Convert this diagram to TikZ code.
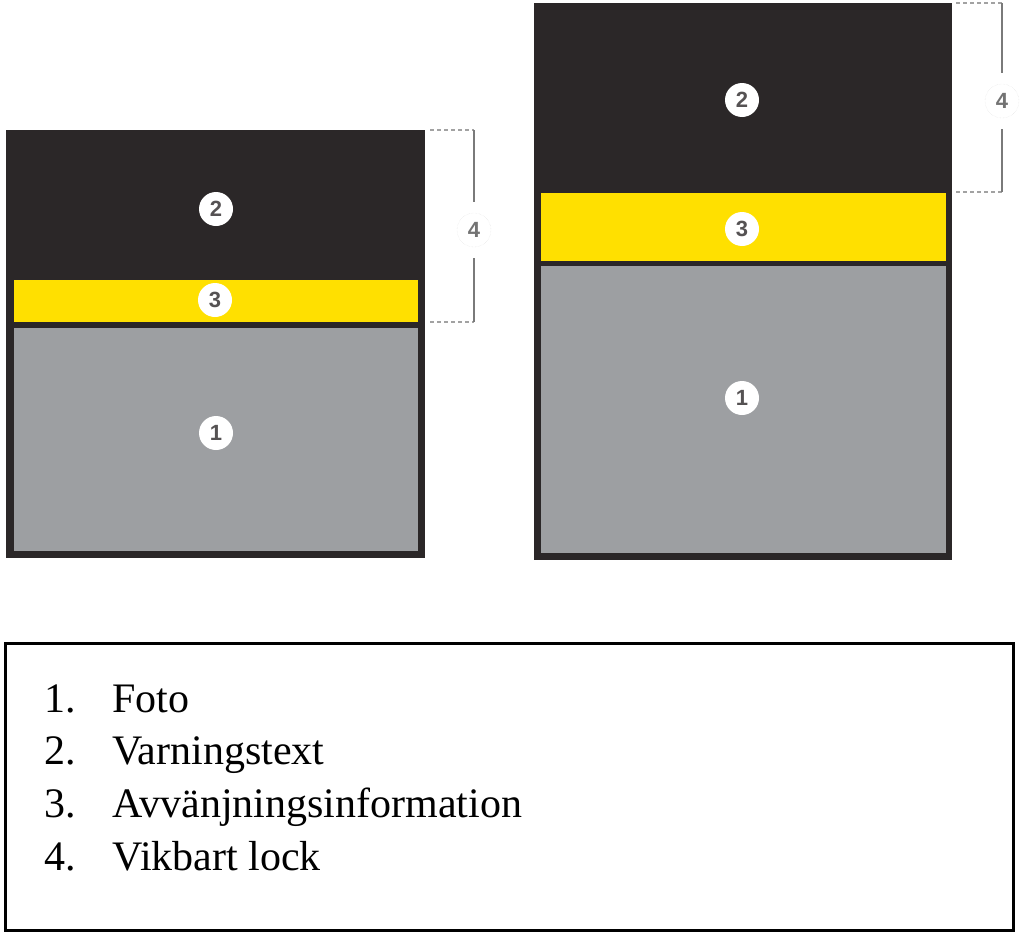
\documentclass[tikz,border=0pt]{standalone}
\usepackage{fontspec}
\setmainfont{Liberation Serif}
\newfontfamily\digitfont{Liberation Sans}
\definecolor{panel}{HTML}{2B2728}
\definecolor{band}{HTML}{FFE000}
\definecolor{photo}{HTML}{9D9FA2}
\definecolor{bracket}{HTML}{7A7A7A}
\begin{document}
\begin{tikzpicture}[x=1pt,y=-1pt,
  num/.style={circle,fill=white,inner sep=0pt,minimum size=34pt,
    text=panel!80,font=\digitfont\bfseries\fontsize{22}{22}\selectfont},
  lid/.style={num,draw=black!12,densely dotted,text=black!55,outer sep=11pt},
  lidline/.style={bracket,line width=2.5pt},
  liddash/.style={bracket!70,line width=1.5pt,dash pattern=on 4pt off 3pt},
  item/.style={anchor=base west,inner sep=0pt,font=\fontsize{42}{42}\selectfont}]
  \useasboundingbox (0,0) rectangle (1024,934);
  % Left pack
  \fill[panel] (6,130) rectangle (425,558);
  \fill[band] (14,280) rectangle (418,322);
  \fill[photo] (14,328) rectangle (418,551);
  \node[num] (l2) at (216,209) {2};
  \node[num] (l3) at (215,300) {3};
  \node[num] (l1) at (216,433) {1};
  % Left lid bracket
  \coordinate (lta) at (430,130);
  \coordinate (ltb) at (474,130);
  \coordinate (lba) at (430,322);
  \coordinate (lbb) at (474,322);
  \node[lid] (l4) at (474,230) {4};
  \draw[liddash] (lta) -- (ltb);
  \draw[liddash] (lba) -- (lbb);
  \draw[lidline] (ltb) -- (l4.north);
  \draw[lidline] (l4.south) -- (lbb);
  % Right pack
  \fill[panel] (534,3) rectangle (952,560);
  \fill[band] (541,193) rectangle (946,261);
  \fill[photo] (541,266) rectangle (946,553);
  \node[num] (r2) at (742,100) {2};
  \node[num] (r3) at (742,229) {3};
  \node[num] (r1) at (742,398) {1};
  % Right lid bracket
  \coordinate (rta) at (956,3);
  \coordinate (rtb) at (1002,3);
  \coordinate (rba) at (956,192);
  \coordinate (rbb) at (1002,192);
  \node[lid] (r4) at (1002,101) {4};
  \draw[liddash] (rta) -- (rtb);
  \draw[liddash] (rba) -- (rbb);
  \draw[lidline] (rtb) -- (r4.north);
  \draw[lidline] (r4.south) -- (rbb);
  % Legend
  \draw[line width=3pt] (5,643) rectangle (1013,930);
  \foreach \n/\txt in {1/Foto,2/Varningstext,3/Avvänjningsinformation,4/Vikbart lock} {
    \node[item] (k\n) at (44,{712+(\n-1)*52.7}) {\n.};
    \node[item] (t\n) at (112,{712+(\n-1)*52.7}) {\txt};
  }
\end{tikzpicture}
\end{document}
